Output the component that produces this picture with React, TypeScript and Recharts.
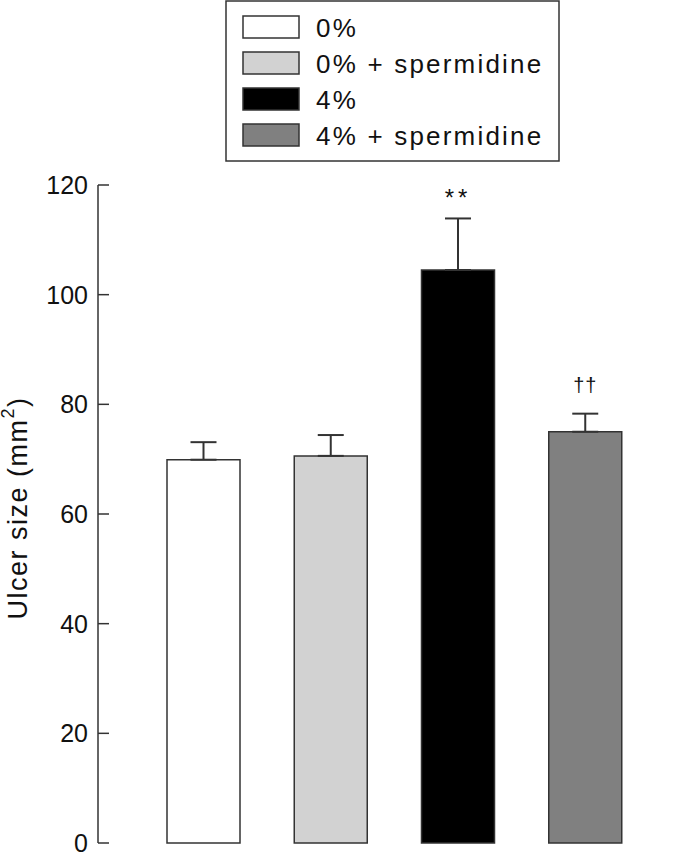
import React from "react";
import {
  BarChart,
  Bar,
  Cell,
  XAxis,
  YAxis,
  ErrorBar,
  LabelList,
  Legend,
} from "recharts";

const categories = ["0%", "0% + spermidine", "4%", "4% + spermidine"];
const means = [69.9, 70.6, 104.5, 75.0];
const sems = [3.2, 3.8, 9.4, 3.3];
const marks = ["", "", "**", "††"];
const yTicks = [0, 20, 40, 60, 80, 100, 120];
const COLORS = ["#ffffff", "#d2d2d2", "#000000", "#808080"];

const FONT = "'Liberation Sans', Arial, Helvetica, sans-serif";
const INK = "#333333";

const data = categories.map((name, i) => ({
  name,
  mean: means[i],
  err: [0, sems[i]],
  mark: marks[i],
}));

const YTick = ({ x, y, payload }: any) => (
  <g>
    <line x1={x + 10} y1={y} x2={x + 21} y2={y} stroke={INK} strokeWidth={1.5} />
    <text
      x={x}
      y={y}
      textAnchor="end"
      dominantBaseline="central"
      fontSize={25}
      fontFamily={FONT}
      fill="#111"
    >
      {payload.value}
    </text>
  </g>
);

const YTitle = ({ viewBox }: any) => {
  const cx = 18;
  const cy = viewBox.y + viewBox.height / 2 - 6;
  return (
    <text
      x={cx}
      y={cy}
      transform={`rotate(-90, ${cx}, ${cy})`}
      textAnchor="middle"
      dominantBaseline="central"
      fontSize={27}
      letterSpacing={1.5}
      fontFamily={FONT}
      fill="#111"
    >
      Ulcer size (mm
      <tspan fontSize={18} dy={-10}>2</tspan>
      <tspan dy={10}>)</tspan>
    </text>
  );
};

const renderMark = ({ x, y, width, height, index }: any) => {
  const m = marks[index];
  if (!m) return null;
  const pxPerUnit = height / means[index];
  const capY = y - sems[index] * pxPerUnit;
  const gap = m === "**" ? 12 : 22;
  return (
    <text
      x={x + width / 2}
      y={capY - gap}
      textAnchor="middle"
      fontSize={m === "**" ? 24 : 20}
      letterSpacing={m === "**" ? 4 : 1}
      fontFamily={FONT}
      fill="#111"
    >
      {m}
    </text>
  );
};

const LegendBox = () => (
  <svg width={336} height={163} style={{ display: "block" }}>
    <rect x={1} y={1} width={333} height={160} fill="#fff" stroke={INK} strokeWidth={1.5} />
    {categories.map((c, i) => (
      <g key={c}>
        <rect
          x={18}
          y={16 + 36 * i}
          width={56}
          height={22}
          fill={COLORS[i]}
          stroke={INK}
          strokeWidth={1.5}
        />
        <text
          x={91}
          y={28 + 36 * i}
          dominantBaseline="central"
          fontSize={26}
          letterSpacing={2.2}
          fontFamily={FONT}
          fill="#111"
        >
          {c}
        </text>
      </g>
    ))}
  </svg>
);

export default function App() {
  return (
    <div style={{ position: "absolute", top: 0, left: 0, width: 694, height: 853 }}>
      <BarChart
        width={694}
        height={853}
        data={data}
        margin={{ top: 185, right: 0, bottom: 10, left: 0 }}
      >
        <XAxis
          dataKey="name"
          tick={false}
          tickLine={false}
          height={0}
          padding={{ left: 42, right: 45 }}
          axisLine={{ stroke: INK, strokeWidth: 1.5 }}
        />
        <YAxis
          width={98}
          domain={[0, 120]}
          ticks={yTicks}
          interval={0}
          tickLine={false}
          tickSize={0}
          tickMargin={10}
          tick={<YTick />}
          axisLine={{ stroke: INK, strokeWidth: 1.5 }}
          label={{ content: <YTitle /> }}
        />
        <Legend
          layout="vertical"
          align="center"
          verticalAlign="middle"
          wrapperStyle={{ position: "absolute", top: 0, left: 225, width: 336 }}
          content={() => <LegendBox />}
        />
        <Bar
          dataKey="mean"
          barSize={73}
          stroke={INK}
          strokeWidth={1.5}
          isAnimationActive={false}
        >
          {data.map((d, i) => (
            <Cell key={`cell-${i}`} fill={COLORS[i]} />
          ))}
          <ErrorBar
            dataKey="err"
            direction="y"
            width={13}
            stroke={INK}
            strokeWidth={2}
            isAnimationActive={false}
          />
          <LabelList dataKey="mark" content={renderMark} />
        </Bar>
      </BarChart>
    </div>
  );
}
